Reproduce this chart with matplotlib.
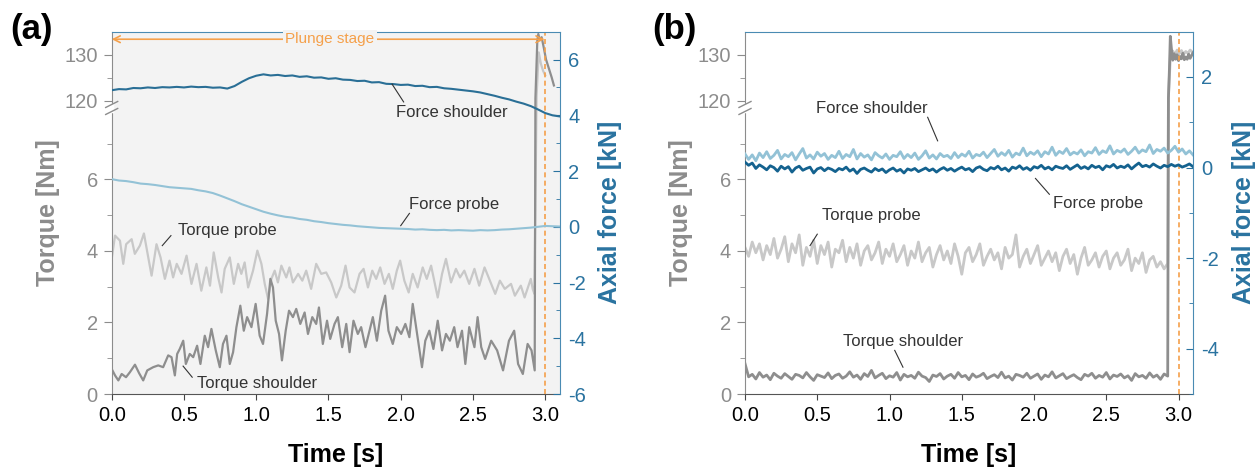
import numpy as np
import matplotlib
matplotlib.use("Agg")
import matplotlib.pyplot as plt

plt.rcParams['font.family'] = ['Liberation Sans', 'DejaVu Sans']
plt.rcParams['axes.unicode_minus'] = False

# ---------------- panel (a) ----------------
# axial force, sampled every 0.05 s from 0 to 3.1 s
fa_time = [round(0.05 * i, 2) for i in range(63)]
fa_shoulder = [4.90, 4.94, 4.93, 4.98, 4.97, 5.00, 4.98, 5.01, 5.00, 5.02, 5.00, 5.03, 5.01, 5.02,
               4.99, 5.00, 4.96, 5.05, 5.20, 5.33, 5.42, 5.47, 5.43, 5.45, 5.41, 5.43, 5.38, 5.40,
               5.35, 5.36, 5.31, 5.33, 5.28, 5.27, 5.23, 5.24, 5.18, 5.19, 5.13, 5.12, 5.09, 5.10,
               5.05, 5.06, 5.01, 5.02, 4.97, 4.95, 4.92, 4.89, 4.86, 4.82, 4.76, 4.70, 4.63, 4.57,
               4.49, 4.42, 4.33, 4.21, 4.08, 4.00, 3.96]
fa_probe = [1.71, 1.66, 1.64, 1.60, 1.55, 1.53, 1.50, 1.46, 1.42, 1.40, 1.38, 1.36, 1.31, 1.27,
            1.21, 1.12, 1.02, 0.92, 0.81, 0.72, 0.63, 0.54, 0.47, 0.41, 0.36, 0.33, 0.28, 0.25,
            0.20, 0.17, 0.13, 0.10, 0.07, 0.05, 0.02, 0.00, -0.02, -0.04, -0.05, -0.06, -0.07,
            -0.08, -0.10, -0.09, -0.11, -0.12, -0.11, -0.13, -0.12, -0.13, -0.14, -0.12, -0.13,
            -0.12, -0.10, -0.09, -0.07, -0.05, -0.03, 0.00, 0.03, 0.02, 0.01]

ta_shoulder_t = [0.0, 0.023, 0.046, 0.069, 0.099, 0.126, 0.161, 0.19, 0.218, 0.246,
                 0.287, 0.322, 0.356, 0.391, 0.414, 0.437, 0.453, 0.471, 0.495, 0.513,
                 0.54, 0.564, 0.591, 0.614, 0.644, 0.667, 0.69, 0.72, 0.748, 0.77,
                 0.794, 0.817, 0.84, 0.863, 0.89, 0.914, 0.937, 0.967, 0.996, 1.024,
                 1.047, 1.075, 1.098, 1.116, 1.135, 1.158, 1.178, 1.204, 1.227, 1.254,
                 1.277, 1.305, 1.335, 1.358, 1.388, 1.415, 1.434, 1.461, 1.49, 1.512,
                 1.542, 1.565, 1.595, 1.623, 1.646, 1.673, 1.703, 1.726, 1.756, 1.784,
                 1.807, 1.835, 1.865, 1.892, 1.915, 1.945, 1.973, 2.003, 2.032, 2.06,
                 2.083, 2.11, 2.147, 2.17, 2.198, 2.226, 2.256, 2.286, 2.313, 2.34,
                 2.37, 2.393, 2.424, 2.447, 2.474, 2.51, 2.532, 2.557, 2.584, 2.626,
                 2.667, 2.708, 2.749, 2.785, 2.812, 2.845, 2.878, 2.905, 2.927, 2.932,
                 2.945, 2.952, 2.962, 2.975, 2.99, 3.005, 3.025, 3.045, 3.06]
ta_shoulder = [0.70, 0.52, 0.38, 0.56, 0.47, 0.61, 0.82, 0.58, 0.38, 0.66,
               0.75, 0.80, 0.75, 1.08, 1.03, 0.52, 1.12, 1.26, 1.49, 0.84,
               1.12, 1.03, 1.35, 0.84, 1.63, 1.31, 1.82, 1.22, 0.75, 1.40,
               1.63, 0.84, 1.17, 1.87, 2.47, 1.77, 2.15, 1.87, 2.52, 1.63,
               1.40, 2.24, 3.22, 2.98, 2.05, 1.68, 0.94, 1.77, 2.33, 2.15,
               2.38, 1.96, 2.28, 1.68, 2.15, 1.96, 2.42, 1.40, 2.05, 1.54,
               1.96, 2.15, 1.31, 1.96, 1.17, 2.05, 1.68, 1.87, 1.31, 1.77,
               2.15, 1.49, 2.33, 2.75, 1.77, 1.40, 1.87, 1.68, 1.96, 1.59,
               2.52, 1.77, 0.75, 1.49, 1.77, 1.26, 2.05, 1.22, 1.68, 1.49,
               1.87, 1.31, 1.77, 0.84, 1.87, 1.31, 2.15, 1.31, 0.98, 1.49,
               1.22, 0.66, 1.49, 1.77, 0.84, 0.56, 1.40, 1.22, 0.66, 120.5,
               133.0, 134.5, 133.2, 133.8, 131.5, 129.0, 127.0, 125.0, 123.3]

ta_probe_t = [0.0, 0.023, 0.057, 0.08, 0.10, 0.138, 0.16, 0.195, 0.223, 0.253,
              0.276, 0.31, 0.338, 0.368, 0.40, 0.425, 0.45, 0.483, 0.518, 0.552,
              0.587, 0.62, 0.655, 0.68, 0.706, 0.737, 0.76, 0.782, 0.817, 0.845,
              0.875, 0.897, 0.92, 0.944, 0.978, 1.008, 1.036, 1.059, 1.082, 1.105,
              1.128, 1.15, 1.174, 1.208, 1.23, 1.254, 1.29, 1.319, 1.346, 1.38,
              1.415, 1.45, 1.484, 1.519, 1.554, 1.588, 1.618, 1.646, 1.68, 1.715,
              1.743, 1.773, 1.803, 1.83, 1.858, 1.888, 1.918, 1.945, 1.973, 1.996,
              2.025, 2.055, 2.083, 2.117, 2.152, 2.18, 2.21, 2.256, 2.286, 2.313,
              2.348, 2.382, 2.41, 2.44, 2.474, 2.51, 2.543, 2.58, 2.626, 2.654,
              2.686, 2.72, 2.763, 2.79, 2.831, 2.857, 2.90, 2.913, 2.925, 2.94,
              2.955, 2.97, 2.985, 3.0]
ta_probe = [3.78, 4.43, 4.29, 3.64, 4.19, 4.33, 3.92, 4.15, 4.49, 3.82,
            3.31, 4.19, 3.82, 3.22, 3.73, 3.26, 3.64, 3.36, 3.87, 3.08,
            3.64, 2.89, 3.54, 3.03, 3.96, 3.26, 2.84, 3.50, 3.82, 3.08,
            3.64, 3.36, 3.68, 2.98, 3.45, 4.01, 3.64, 3.08, 2.66, 3.22,
            3.45, 3.12, 3.59, 3.26, 3.54, 3.12, 3.36, 3.17, 3.45, 2.94,
            3.64, 3.36, 3.40, 3.12, 2.70, 3.03, 3.59, 2.98, 2.84, 3.36,
            3.50, 2.98, 3.45, 3.22, 3.54, 3.08, 3.36, 2.94, 3.45, 3.73,
            3.17, 2.84, 3.36, 2.98, 3.54, 3.22, 3.59, 2.70, 3.36, 3.78,
            3.12, 3.50, 3.26, 3.45, 3.08, 3.50, 3.03, 3.54, 3.08, 2.80,
            3.17, 2.94, 3.08, 2.75, 3.03, 2.70, 3.22, 2.94, 2.80, 121.0,
            130.5, 128.0, 126.5, 125.5]

# ---------------- panel (b) ----------------
STEP_B = 0.025
tb_shoulder = [0.85, 0.48, 0.55, 0.42, 0.60, 0.47, 0.53, 0.40, 0.58, 0.50,
               0.44, 0.57, 0.49, 0.41, 0.55, 0.52, 0.45, 0.60, 0.48, 0.38,
               0.54, 0.50, 0.46, 0.59, 0.43, 0.52, 0.56, 0.44, 0.50, 0.62,
               0.47, 0.53, 0.41, 0.57, 0.49, 0.66, 0.45, 0.52, 0.58, 0.43,
               0.51, 0.47, 0.60, 0.39, 0.55, 0.48, 0.52, 0.44, 0.61, 0.50,
               0.46, 0.35, 0.53, 0.49, 0.57, 0.42, 0.50, 0.55, 0.44, 0.60,
               0.48, 0.52, 0.40, 0.56, 0.47, 0.51, 0.58, 0.43, 0.49, 0.54,
               0.46, 0.61, 0.45, 0.50, 0.39, 0.55, 0.52, 0.47, 0.58, 0.44,
               0.50, 0.56, 0.41, 0.53, 0.48, 0.62, 0.45, 0.51, 0.57, 0.43,
               0.49, 0.54, 0.46, 0.40, 0.55, 0.50, 0.58, 0.44, 0.52, 0.47,
               0.60, 0.42, 0.53, 0.49, 0.56, 0.45, 0.51, 0.38, 0.57, 0.48,
               0.52, 0.44, 0.59, 0.47, 0.53, 0.41, 0.56, 0.50]
tb_shoulder_up_t = [2.93, 2.937, 2.943, 2.95, 2.96, 2.97, 2.98, 2.99, 3.0, 3.01,
                    3.02, 3.03, 3.04, 3.05, 3.06, 3.07, 3.08, 3.09, 3.1]
tb_shoulder_up = [120.5, 127.0, 134.0, 131.5, 128.8, 130.2, 129.0, 130.0, 128.7, 129.6,
                  129.1, 130.3, 128.9, 129.5, 129.0, 130.1, 129.2, 129.8, 130.4]

tb_probe = [4.10, 3.85, 4.25, 3.95, 4.20, 3.75, 4.15, 3.90, 4.35, 3.80,
            4.05, 4.40, 3.70, 4.20, 3.95, 4.45, 3.60, 4.10, 3.85, 4.30,
            3.65, 4.15, 3.90, 4.25, 3.55, 4.05, 3.95, 4.30, 3.70, 4.10,
            3.80, 4.20, 3.60, 4.00, 4.15, 3.75, 3.95, 4.25, 3.65, 4.05,
            3.85, 4.20, 3.70, 3.90, 4.15, 3.60, 4.00, 3.80, 4.25, 3.70,
            3.95, 4.10, 3.55, 3.90, 4.15, 3.75, 4.00, 3.65, 4.20, 3.85,
            3.35, 3.95, 4.10, 3.70, 3.90, 4.20, 3.60, 3.85, 4.05, 3.75,
            3.95, 3.50, 4.10, 3.80, 3.90, 4.45, 3.55, 3.85, 4.05, 3.65,
            3.90, 4.15, 3.60, 3.80, 4.00, 3.70, 3.95, 3.45, 3.85, 4.05,
            3.65, 3.90, 3.35, 3.80, 4.10, 3.60, 3.75, 3.95, 3.55, 3.85,
            4.00, 3.50, 3.80, 3.95, 3.60, 3.75, 4.05, 3.45, 3.80, 3.65,
            3.95, 3.40, 3.75, 3.85, 3.55, 3.70, 3.50, 3.65]
tb_probe_up_t = [2.93, 2.945, 2.96, 2.975, 2.99, 3.005, 3.02, 3.035, 3.05, 3.065, 3.08, 3.095]
tb_probe_up = [121.0, 130.5, 130.8, 130.0, 131.0, 130.2, 130.9, 130.1, 130.7, 130.3, 131.0, 130.6]

fb_shoulder = [0.30, 0.18, 0.28, 0.15, 0.32, 0.22, 0.35, 0.20, 0.27, 0.38,
               0.19, 0.29, 0.24, 0.33, 0.17, 0.30, 0.42, 0.21, 0.28, 0.19,
               0.34, 0.25, 0.31, 0.18, 0.27, 0.22, 0.36, 0.20, 0.29, 0.24,
               0.40, 0.19, 0.31, 0.23, 0.28, 0.17, 0.33, 0.26, 0.21, 0.30,
               0.18, 0.27, 0.24, 0.35, 0.20, 0.29, 0.22, 0.32, 0.18, 0.26,
               0.37, 0.21, 0.28, 0.19, 0.31, 0.24, 0.27, 0.20, 0.33, 0.22,
               0.30, 0.25, 0.36, 0.21, 0.29, 0.26, 0.34, 0.22, 0.31, 0.40,
               0.25, 0.33, 0.27, 0.38, 0.23, 0.32, 0.28, 0.43, 0.26, 0.34,
               0.29, 0.37, 0.24, 0.35, 0.30, 0.45, 0.27, 0.36, 0.31, 0.42,
               0.28, 0.34, 0.30, 0.39, 0.26, 0.35, 0.32, 0.44, 0.29, 0.37,
               0.33, 0.48, 0.30, 0.38, 0.34, 0.41, 0.29, 0.36, 0.45, 0.32,
               0.39, 0.35, 0.50, 0.31, 0.40, 0.36, 0.43, 0.32, 0.38, 0.47,
               0.34, 0.41, 0.30, 0.37, 0.28]
fb_probe = [0.12, 0.05, 0.10, -0.02, 0.06, 0.01, -0.05, 0.04, 0.00, -0.08,
            0.03, -0.03, 0.02, -0.10, -0.01, 0.03, -0.06, -0.02, 0.01, -0.12,
            -0.03, 0.00, -0.07, -0.01, -0.04, -0.09, -0.02, -0.05, 0.01, -0.08,
            -0.03, -0.13, -0.04, -0.01, -0.06, -0.10, -0.02, -0.07, -0.03, -0.11,
            -0.05, -0.01, -0.08, -0.04, -0.12, -0.03, -0.06, -0.02, -0.09, -0.05,
            -0.01, -0.07, -0.03, -0.10, -0.04, 0.00, -0.06, -0.02, -0.08, -0.03,
            0.01, -0.05, -0.02, -0.09, -0.01, 0.02, -0.04, -0.07, 0.00, -0.03,
            0.03, -0.05, -0.01, -0.08, 0.01, -0.02, 0.04, -0.04, 0.00, -0.06,
            0.02, -0.01, 0.05, -0.03, 0.01, -0.05, 0.03, 0.00, -0.02, 0.04,
            -0.04, 0.01, 0.06, -0.02, 0.02, -0.03, 0.05, 0.00, 0.03, -0.05,
            0.04, 0.01, 0.07, -0.01, 0.03, 0.00, 0.06, -0.03, 0.04, 0.10,
            0.02, 0.05, 0.01, 0.08, 0.03, -0.01, 0.05, 0.02, 0.07, 0.03,
            0.06, 0.01, 0.04, 0.08, 0.02]

# ---------------- styling ----------------
GREY_AX = '#8c8c8c'
BLUE_AX = '#2a73a0'
C_T_SH = '#8e8e8e'
C_T_PR = '#c8c8c8'
C_F_DARK = '#2a6f96'
C_F_DARK_B = '#14628f'
C_F_LIGHT = '#93c2d6'
ORANGE = '#f5a04a'
TXT = '#333333'

# broken torque axis: 0..8 linear, gap, 118.4..135 compressed
LOW_TOP, HIGH_BOT, K = 8.0, 118.4, 0.1285
XP = [-1e4, LOW_TOP, HIGH_BOT, 1e4]
FP = [-1e4, LOW_TOP, LOW_TOP + 1e-6, LOW_TOP + 1e-6 + (1e4 - HIGH_BOT) * K]


def fwd(y):
    return np.interp(y, XP, FP)


def inv(v):
    return np.interp(v, FP, XP)


fig = plt.figure(figsize=(12.6, 4.71), dpi=100)
W, H = 1260, 471
AX_W, AX_H = 448, 362.3


def setup(left_px, force_lim, force_ticks, force_minor, bg):
    ax = fig.add_axes([left_px / W, (H - 394) / H, AX_W / W, AX_H / H])
    ax.set_facecolor(bg)
    ax.set_yscale('function', functions=(fwd, inv))
    ax.set_ylim(0, 135)
    ax.set_xlim(0, 3.1)
    ax.set_yticks([0, 2, 4, 6, 120, 130])
    ax.set_yticklabels(['0', '2', '4', '6', '120', '130'])
    ax.set_yticks([1, 3, 5, 7, 125], minor=True)
    ax.set_xticks([0, 0.5, 1.0, 1.5, 2.0, 2.5, 3.0])
    ax.set_xticklabels(['0.0', '0.5', '1.0', '1.5', '2.0', '2.5', '3.0'])
    ax.tick_params(axis='y', which='both', colors=GREY_AX, direction='out', labelsize=14.5, pad=4)
    ax.tick_params(axis='y', which='major', length=6)
    ax.tick_params(axis='y', which='minor', length=3.5)
    ax.tick_params(axis='x', colors='#444444', labelcolor='black', direction='out',
                   length=4.5, labelsize=14.5, pad=4)
    ax.spines['top'].set_visible(False)
    ax.spines['right'].set_visible(False)
    ax.spines['left'].set_color(GREY_AX)
    ax.spines['bottom'].set_color('#555555')
    ax.set_xlabel('Time [s]', fontsize=18, fontweight='bold')
    ax.xaxis.set_label_coords(0.5, -0.135)
    ax.set_ylabel('Torque [Nm]', fontsize=18, fontweight='bold', color=GREY_AX)
    ax.yaxis.set_label_coords(-0.115, 0.5)

    ax2 = ax.twinx()
    ax2.set_ylim(*force_lim)
    ax2.set_yticks(force_ticks)
    ax2.set_yticks(force_minor, minor=True)
    ax2.tick_params(axis='y', which='both', colors=BLUE_AX, direction='in', labelsize=14.5, pad=6)
    ax2.tick_params(axis='y', which='major', length=5)
    ax2.tick_params(axis='y', which='minor', length=3)
    for s in ['left', 'bottom']:
        ax2.spines[s].set_visible(False)
    for s in ['right', 'top']:
        ax2.spines[s].set_color('#4a8bb3')
    ax2.set_ylabel('Axial force [kN]', fontsize=18, fontweight='bold', color=BLUE_AX)
    ax2.yaxis.set_label_coords(1.086, 0.5)

    # break marks on the torque axis
    yb = fwd(LOW_TOP) / fwd(135)
    px, py = 1 / AX_W, 1 / AX_H
    ax.plot([0, 0], [yb - 3 * py, yb + 3 * py], transform=ax.transAxes, color='white',
            lw=2.5, clip_on=False, zorder=6)
    for off in (-3.5, 3.5):
        ax.plot([-6 * px, 6 * px], [yb + (off - 3) * py, yb + (off + 3) * py],
                transform=ax.transAxes, color=GREY_AX, lw=1.0, clip_on=False, zorder=7)
    ax.axvline(3.0, color=ORANGE, lw=1.2, ls=(0, (3, 2)), zorder=4)
    return ax, ax2


def note(axis, text, xy_text, p0, p1):
    axis.text(xy_text[0], xy_text[1], text, fontsize=12, color=TXT, ha='left', va='center')
    axis.plot([p0[0], p1[0]], [p0[1], p1[1]], color=TXT, lw=0.8)


# panel (a)
axa, axa2 = setup(111.7, (-6, 7), [-6, -4, -2, 0, 2, 4, 6], [-5, -3, -1, 1, 3, 5], '#f3f3f3')
axa.plot(ta_probe_t, ta_probe, color=C_T_PR, lw=1.6, zorder=2)
axa.plot(ta_shoulder_t, ta_shoulder, color=C_T_SH, lw=1.6, zorder=3)
axa2.plot(fa_time, fa_probe, color=C_F_LIGHT, lw=1.5)
axa2.plot(fa_time, fa_shoulder, color=C_F_DARK, lw=1.5)

axa2.annotate('', xy=(0.0, 6.73), xytext=(2.995, 6.73),
              arrowprops=dict(arrowstyle='<->', color=ORANGE, lw=1.2, mutation_scale=12,
                              shrinkA=0, shrinkB=0))
axa2.text(1.51, 6.73, 'Plunge stage', color=ORANGE, fontsize=11, ha='center', va='center',
          bbox=dict(facecolor='#f3f3f3', edgecolor='none', pad=1.5))
note(axa2, 'Force shoulder', (1.97, 4.11), (2.02, 4.48), (1.94, 5.12))
note(axa2, 'Force probe', (2.06, 0.81), (2.06, 0.48), (2.0, 0.04))
note(axa, 'Torque probe', (0.46, 4.57), (0.41, 4.43), (0.35, 4.15))
note(axa, 'Torque shoulder', (0.59, 0.28), (0.557, 0.47), (0.494, 0.78))
fig.text(10 / W, 1 - 30 / H, '(a)', fontsize=25, fontweight='bold', ha='left', va='center')

# panel (b)
axb, axb2 = setup(745, (-5, 3), [-4, -2, 0, 2], [-5, -3, -1, 1, 3], 'white')
tb_time = [round(STEP_B * i, 3) for i in range(len(tb_shoulder))]
fb_time = [round(STEP_B * i, 3) for i in range(len(fb_shoulder))]
axb.plot(tb_time + tb_probe_up_t, tb_probe + tb_probe_up, color=C_T_PR, lw=2.0, zorder=2)
axb.plot(tb_time + tb_shoulder_up_t, tb_shoulder + tb_shoulder_up, color=C_T_SH, lw=2.0, zorder=3)
axb2.plot(fb_time, fb_shoulder, color=C_F_LIGHT, lw=2.0)
axb2.plot(fb_time, fb_probe, color=C_F_DARK_B, lw=2.0)

note(axb2, 'Force shoulder', (0.49, 1.30), (1.264, 1.11), (1.333, 0.59))
note(axb2, 'Force probe', (2.13, -0.80), (2.106, -0.59), (2.01, -0.24))
note(axb, 'Torque probe', (0.53, 4.99), (0.50, 4.47), (0.45, 4.15))
note(axb, 'Torque shoulder', (0.68, 1.48), (1.036, 1.22), (1.093, 0.75))
fig.text(652 / W, 1 - 30 / H, '(b)', fontsize=25, fontweight='bold', ha='left', va='center')

fig.savefig('out.png', dpi=100)
